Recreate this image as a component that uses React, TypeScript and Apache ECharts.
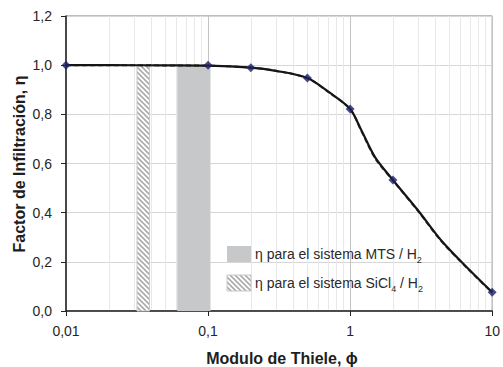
import React, { useEffect, useRef } from "react";
import * as echarts from "echarts";

// ---- data ----
const curveX = [0.01, 0.02, 0.05, 0.1, 0.2, 0.3, 0.5, 0.71, 1.0, 1.2, 1.5, 2.0, 3.0, 4.38, 6.7, 10];
const curveY = [1.0, 1.0, 0.999, 0.998, 0.99, 0.977, 0.948, 0.89, 0.822, 0.735, 0.625, 0.533, 0.41, 0.287, 0.175, 0.076];
const dashedY = [1.0, 1.0, 0.999, 0.998, 0.99, 0.977, 0.947, 0.889, 0.821, 0.732, 0.621, 0.531, 0.407, 0.284, 0.173, 0.075];
const markerX = [0.01, 0.1, 0.2, 0.5, 1, 2, 10];
const markerY = [1.0, 1.0, 0.99, 0.948, 0.822, 0.533, 0.076];
const mtsBand = [0.0607, 0.104, 1.0]; // [from, to, height]
const siclBand = [0.0316, 0.0387, 1.0];
const minorGrid = [0.02, 0.03, 0.04, 0.05, 0.06, 0.07, 0.08, 0.09, 0.2, 0.3, 0.4, 0.5, 0.6, 0.7, 0.8, 0.9, 2, 3, 4, 5, 6, 7, 8, 9];
const yMin = 0;
const yMax = 1.2;
const yStep = 0.2;
const xMin = 0.01;
const xMax = 10;

const FONT = "'Liberation Sans', Arial, Helvetica, sans-serif";
const GRAY_BAND = "#c7c8ca";

function makeHatch(): HTMLCanvasElement {
  const n = 5;
  const c = document.createElement("canvas");
  c.width = n;
  c.height = n;
  const ctx = c.getContext("2d")!;
  ctx.fillStyle = "#ffffff";
  ctx.fillRect(0, 0, n, n);
  ctx.strokeStyle = "#ababab";
  ctx.lineWidth = 1.6;
  ctx.beginPath();
  ctx.moveTo(-1, -1);
  ctx.lineTo(n + 1, n + 1);
  ctx.moveTo(-1, n - 1);
  ctx.lineTo(1, n + 1);
  ctx.moveTo(n - 1, -1);
  ctx.lineTo(n + 1, 1);
  ctx.stroke();
  return c;
}

export default function App() {
  const ref = useRef<HTMLDivElement>(null);

  useEffect(() => {
    document.body.style.margin = "0";
    if (!ref.current) return;
    const chart = echarts.init(ref.current, undefined, { renderer: "svg" });
    const hatch = { image: makeHatch(), repeat: "repeat" as const };

    const bandRender = (fill: any, stroke: string | undefined) => (params: any, api: any) => {
      const p0 = api.coord([api.value(0), api.value(2)]);
      const p1 = api.coord([api.value(1), 0]);
      return {
        type: "rect",
        shape: { x: p0[0], y: p0[1], width: p1[0] - p0[0], height: p1[1] - p0[1] },
        style: { fill, stroke: stroke || null, lineWidth: stroke ? 1 : 0 },
      };
    };

    const line = (v: number[]) => curveX.map((x, i) => [x, v[i]]);
    const rich = {
      a: { fontSize: 14, fontFamily: FONT, fill: "#2a2a2a", lineHeight: 20 },
      s: { fontSize: 9, fontFamily: FONT, fill: "#2a2a2a", lineHeight: 10, verticalAlign: "bottom" },
    };

    chart.setOption({
      animation: false,
      textStyle: { fontFamily: FONT },
      grid: {
        left: 66,
        right: 5,
        top: 16,
        bottom: 56,
        show: true,
        borderColor: "#7a7a7a",
        borderWidth: 1,
        backgroundColor: "#ffffff",
      },
      xAxis: {
        type: "log",
        logBase: 10,
        min: xMin,
        max: xMax,
        axisLine: { show: true, lineStyle: { color: "#222", width: 1.5 } },
        axisTick: { show: true, length: 5, lineStyle: { color: "#222" } },
        axisLabel: {
          fontSize: 14,
          color: "#262626",
          margin: 13,
          fontFamily: FONT,
          formatter: (v: number) => {
            const s = v >= 1 ? String(Math.round(v)) : String(+v.toPrecision(3));
            return s.replace(".", ",");
          },
        },
        splitLine: { show: true, lineStyle: { color: "#c3c3c3", width: 1 } },
      },
      yAxis: {
        type: "value",
        min: yMin,
        max: yMax,
        interval: yStep,
        axisLine: { show: true, lineStyle: { color: "#222", width: 1.5 } },
        axisTick: { show: true, length: 5, lineStyle: { color: "#222" } },
        axisLabel: {
          fontSize: 14,
          color: "#262626",
          margin: 14,
          fontFamily: FONT,
          formatter: (v: number) => v.toFixed(1).replace(".", ","),
        },
        splitLine: { show: true, lineStyle: { color: "#d6d6d6", width: 1 } },
      },
      graphic: [
        {
          type: "text",
          x: 282,
          y: 358,
          style: {
            text: "Modulo de Thiele, ϕ",
            font: `bold 16px ${FONT}`,
            fill: "#1e1e1e",
            textAlign: "center",
            textVerticalAlign: "middle",
          },
        },
        {
          type: "text",
          x: 19,
          y: 164,
          rotation: Math.PI / 2,
          style: {
            text: "Factor de Infiltración, η",
            font: `bold 16px ${FONT}`,
            fill: "#1e1e1e",
            textAlign: "center",
            textVerticalAlign: "middle",
          },
        },
        {
          type: "rect",
          shape: { x: 227, y: 246, width: 24, height: 16 },
          style: { fill: GRAY_BAND },
          z: 100,
        },
        {
          type: "rect",
          shape: { x: 227, y: 275, width: 24, height: 16 },
          style: { fill: hatch, stroke: "#c8c8c8", lineWidth: 1 },
          z: 100,
        },
        {
          type: "text",
          x: 255,
          y: 254,
          z: 100,
          style: {
            text: "{a|η para el sistema MTS / H}{s|2}",
            textVerticalAlign: "middle",
            rich,
          },
        },
        {
          type: "text",
          x: 255,
          y: 283,
          z: 100,
          style: {
            text: "{a|η para el sistema SiCl}{s|4}{a| / H}{s|2}",
            textVerticalAlign: "middle",
            rich,
          },
        },
      ],
      series: [
        {
          name: "minor grid",
          type: "line",
          data: [],
          z: 0,
          silent: true,
          markLine: {
            z: 0,
            silent: true,
            symbol: ["none", "none"],
            label: { show: false },
            lineStyle: { color: "#e8e8e8", width: 1, type: "solid" },
            data: minorGrid.map((v) => ({ xAxis: v })),
          },
        },
        {
          name: "SiCl4 / H2",
          type: "custom",
          z: 3,
          encode: { x: [0, 1], y: 2 },
          renderItem: bandRender(hatch, "#c8c8c8"),
          data: [siclBand],
        },
        {
          name: "MTS / H2",
          type: "custom",
          z: 3,
          encode: { x: [0, 1], y: 2 },
          renderItem: bandRender(GRAY_BAND, undefined),
          data: [mtsBand],
        },
        {
          name: "dashed",
          type: "line",
          z: 4,
          data: line(dashedY),
          showSymbol: false,
          smooth: 0.3,
          lineStyle: { color: "#444", width: 2, type: [5, 3] },
        },
        {
          name: "eta",
          type: "line",
          z: 5,
          data: line(curveY),
          showSymbol: false,
          smooth: 0.3,
          lineStyle: { color: "#151515", width: 2.2 },
        },
        {
          name: "points",
          type: "scatter",
          z: 6,
          clip: false,
          symbol: "diamond",
          symbolSize: 9,
          itemStyle: { color: "#1f1f66" },
          data: markerX.map((x, i) => [x, markerY[i]]),
        },
      ],
    });
    return () => chart.dispose();
  }, []);

  return (
    <div
      ref={ref}
      style={{ position: "fixed", left: 0, top: 0, width: 503, height: 367, background: "#fff" }}
    />
  );
}
